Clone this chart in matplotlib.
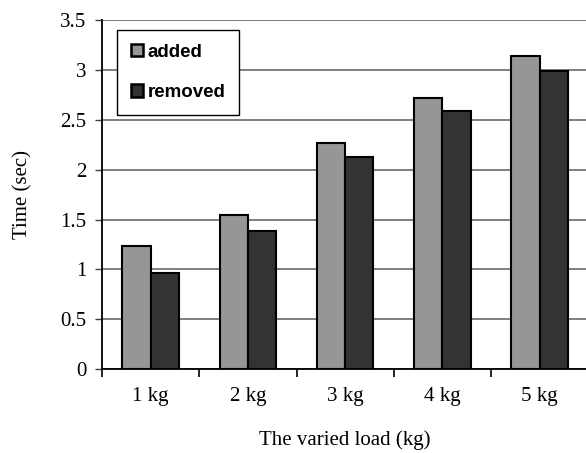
import numpy as np
import matplotlib.pyplot as plt

# 数据
categories = ['1 kg', '2 kg', '3 kg', '4 kg', '5 kg']
added = [1.23, 1.55, 2.27, 2.72, 3.14]
removed = [0.96, 1.38, 2.13, 2.59, 2.99]

# 样式
added_color = '#969696'
removed_color = '#333333'
bar_width = 0.29
serif_font = ['Liberation Serif', 'DejaVu Serif']
label_size = 15

fig = plt.figure(figsize=(5.86, 4.53), dpi=100)
ax = fig.add_axes([0.174, 0.185, 0.83, 0.771])

x = np.arange(len(categories))
ax.bar(x - bar_width / 2, added, bar_width, color=added_color,
       edgecolor='black', linewidth=1.5, label='added', zorder=3)
ax.bar(x + bar_width / 2, removed, bar_width, color=removed_color,
       edgecolor='black', linewidth=1.5, label='removed', zorder=3)

ax.set_xlim(-0.5, len(categories) - 0.5)
ax.set_ylim(0, 3.5)
ax.set_yticks(np.arange(0, 3.51, 0.5))
ax.set_yticklabels(['0', '0.5', '1', '1.5', '2', '2.5', '3', '3.5'],
                   family=serif_font, fontsize=label_size)

# 类别标签放在组中间，刻度线放在组边界
ax.set_xticks(x)
ax.set_xticklabels(categories, family=serif_font, fontsize=label_size)
ax.set_xticks(np.arange(-0.5, len(categories), 1.0), minor=True)
ax.tick_params(axis='x', which='major', length=0, pad=13)
ax.tick_params(axis='x', which='minor', length=6, width=1.2, direction='out')
ax.tick_params(axis='y', length=5, width=1.0, direction='out', pad=6,
               color='#404040')

ax.yaxis.grid(True, color='#757575', linewidth=1.3, zorder=0)
ax.set_axisbelow(True)

for side in ['top', 'right']:
    ax.spines[side].set_visible(False)
ax.spines['left'].set_linewidth(1.3)
ax.spines['bottom'].set_linewidth(1.3)

ax.set_xlabel('The varied load (kg)', family=serif_font, fontsize=label_size,
              labelpad=17)
ax.set_ylabel('Time (sec)', family=serif_font, fontsize=label_size, labelpad=20)

leg = ax.legend(loc='upper left', bbox_to_anchor=(0.031, 0.971),
                prop={'family': 'Liberation Sans', 'weight': 'bold', 'size': 13.5},
                fancybox=False, framealpha=1, edgecolor='black',
                handlelength=0.68, handleheight=0.68, handletextpad=0.25,
                labelspacing=1.25, borderpad=0.72, borderaxespad=0)
leg.get_frame().set_linewidth(1.0)
for h in leg.legend_handles:
    h.set_linewidth(1.8)

fig.savefig('out.png', dpi=100)
